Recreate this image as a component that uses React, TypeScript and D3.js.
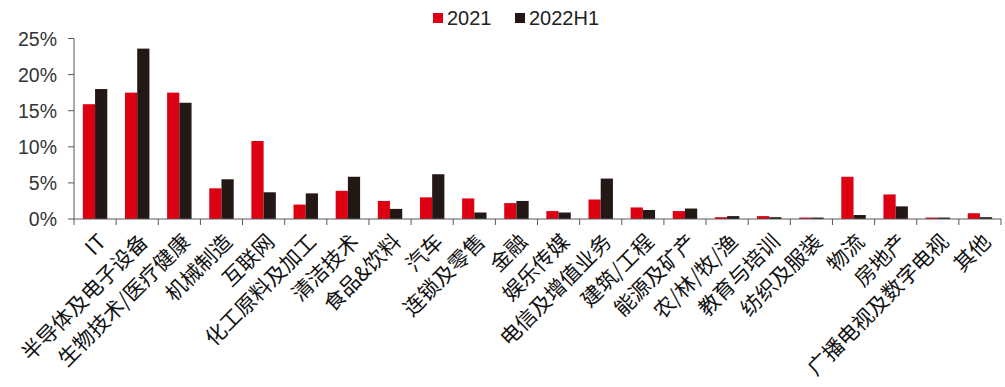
import React from "react";
import * as d3 from "d3";

const categories = [
  "IT", "半导体及电子设备", "生物技术/医疗健康", "机械制造", "互联网", "化工原料及加工",
  "清洁技术", "食品&饮料", "汽车", "连锁及零售", "金融", "娱乐传媒", "电信及增值业务",
  "建筑/工程", "能源及矿产", "农/林/牧/渔", "教育与培训", "纺织及服装", "物流", "房地产",
  "广播电视及数字电视", "其他",
];

const values2021 = [
  15.9, 17.5, 17.5, 4.25, 10.8, 2.0, 3.9, 2.5, 3.0, 2.85, 2.2, 1.1, 2.7,
  1.6, 1.1, 0.25, 0.4, 0.2, 5.85, 3.4, 0.2, 0.8,
];

const values2022H1 = [
  18.0, 23.6, 16.1, 5.5, 3.7, 3.55, 5.85, 1.4, 6.2, 0.9, 2.5, 0.9, 5.6,
  1.25, 1.45, 0.4, 0.25, 0.2, 0.55, 1.75, 0.2, 0.25,
];

const seriesNames = ["2021", "2022H1"];
const yTicks = [0, 5, 10, 15, 20, 25];

const RED = "#DC0012";
const DARK = "#231815";
const AXIS = "#595959";
const FONT = "'Liberation Sans', Arial, 'Noto Sans CJK SC', sans-serif";
const CJK = "'Noto Sans CJK SC', 'Liberation Sans', sans-serif";

export default function App() {
  const width = 1005;
  const height = 387;
  const x0 = 74;
  const x1 = 1001;
  const yBase = 219;
  const yTop = 38.5;

  const x = d3.scaleBand<string>().domain(categories).range([x0, x1]).paddingInner(0.42).paddingOuter(0.21);
  const xSub = d3.scaleBand<string>().domain(seriesNames).range([0, x.bandwidth()]);
  const y = d3.scaleLinear().domain([0, 25]).range([yBase, yTop]);
  const band = (x1 - x0) / categories.length;

  const series = [
    { name: seriesNames[0], values: values2021, color: RED },
    { name: seriesNames[1], values: values2022H1, color: DARK },
  ];

  return (
    <svg width={width} height={height} style={{ position: "absolute", left: 0, top: 0 }}>
      <rect width={width} height={height} fill="#fff" />
      {/* legend */}
      <g fontFamily={FONT} fontSize={20} fill="#222">
        <rect x={433} y={13} width={10} height={10} fill={RED} />
        <text x={447} y={24.5}>{seriesNames[0]}</text>
        <rect x={515} y={13} width={10} height={10} fill={DARK} />
        <text x={529} y={24.5}>{seriesNames[1]}</text>
      </g>
      {/* bars */}
      {series.map((s) => (
        <g key={s.name} fill={s.color}>
          {categories.map((c, i) => (
            <rect
              key={c}
              x={(x(c) as number) + (xSub(s.name) as number)}
              y={y(s.values[i])}
              width={xSub.bandwidth()}
              height={yBase - y(s.values[i])}
            />
          ))}
        </g>
      ))}
      {/* y axis */}
      <g stroke={AXIS} strokeWidth={1}>
        <line x1={x0} x2={x0} y1={yTop} y2={yBase} />
        {yTicks.map((t) => (
          <line key={t} x1={x0 - 6} x2={x0} y1={y(t)} y2={y(t)} />
        ))}
      </g>
      <g fontFamily={FONT} fontSize={19.5} fill="#333" textAnchor="end">
        {yTicks.map((t) => (
          <text key={t} x={57} y={y(t)} dy="0.36em">{`${t}%`}</text>
        ))}
      </g>
      {/* x axis */}
      <g stroke={AXIS} strokeWidth={1}>
        <line x1={x0} x2={x1} y1={yBase} y2={yBase} />
        {d3.range(categories.length + 1).map((i) => (
          <line key={i} x1={x0 + i * band} x2={x0 + i * band} y1={yBase} y2={yBase + 6} />
        ))}
      </g>
      <g fontFamily={CJK} fontSize={21} fill="#111" textAnchor="end">
        {categories.map((c) => {
          const cx = (x(c) as number) + x.bandwidth() / 2 + 7;
          const cy = 238;
          return (
            <text key={c} transform={`translate(${cx},${cy}) rotate(-45)`} dy="0.35em">
              {c}
            </text>
          );
        })}
      </g>
    </svg>
  );
}
